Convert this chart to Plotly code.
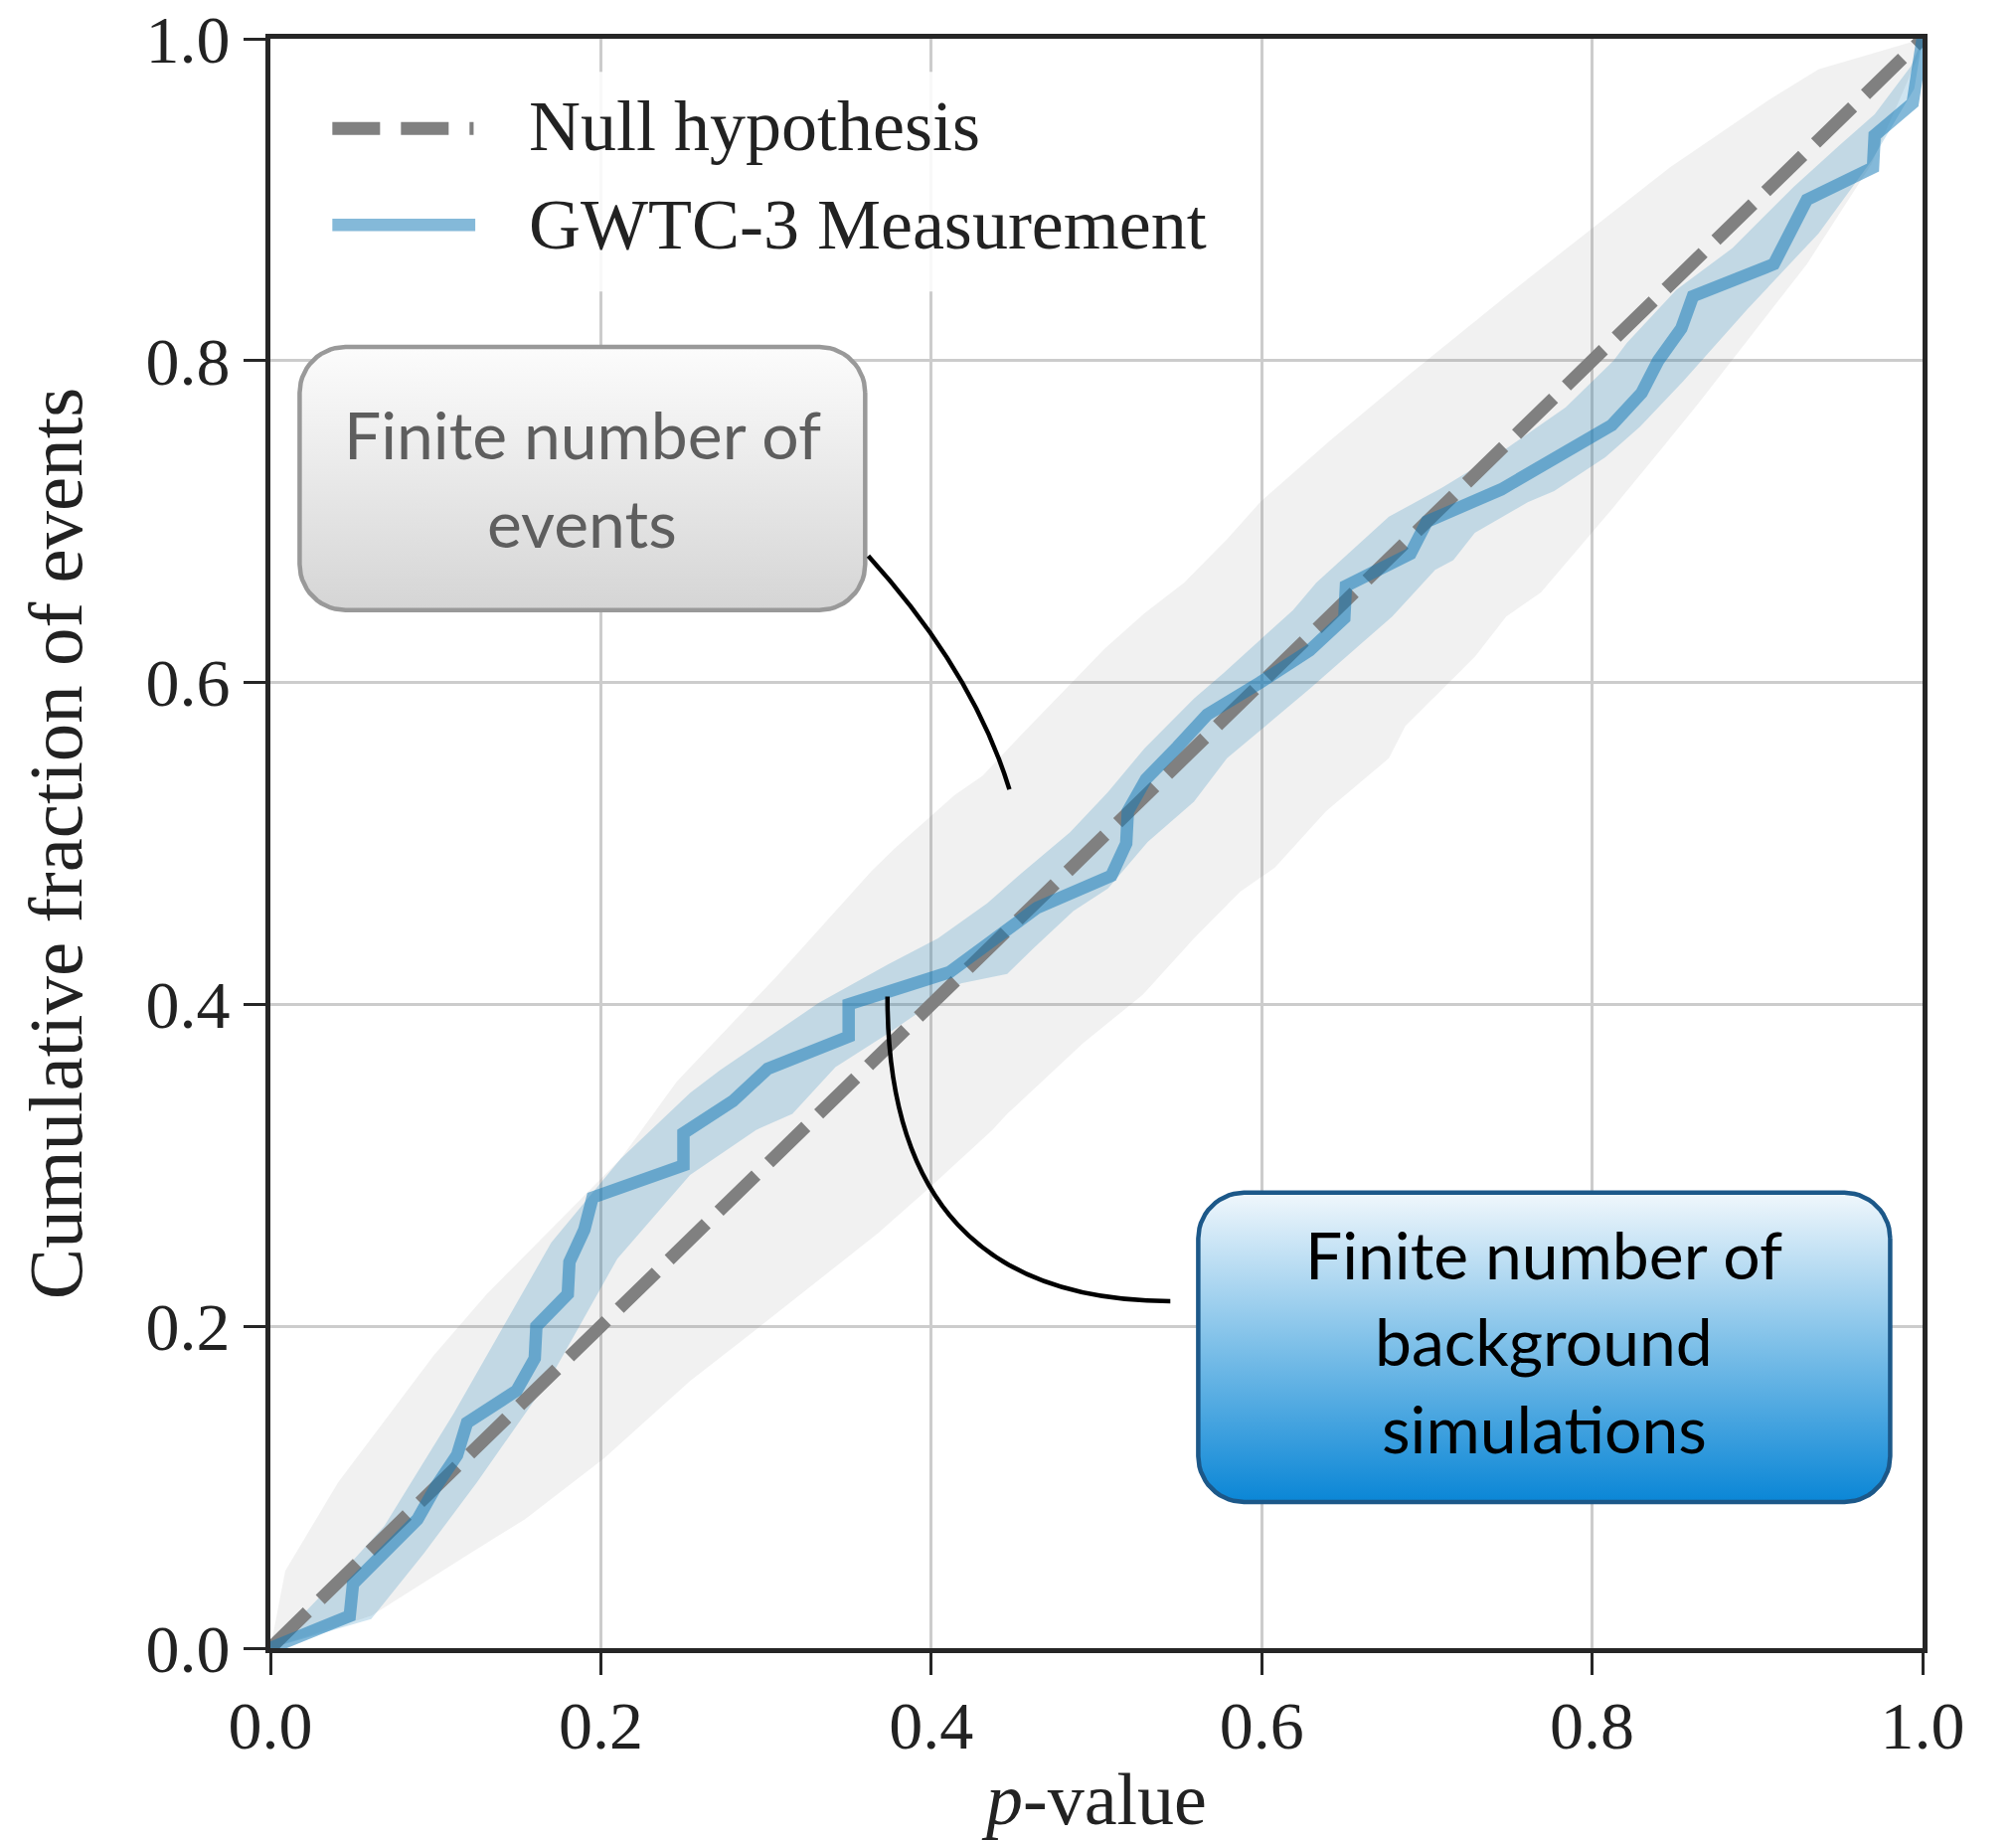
import math
import plotly.graph_objects as go

# ---------------- data ----------------
null_p = [0.0, 1.0]
null_f = [0.0, 1.0]

meas_p = [0.000, 0.048, 0.050, 0.070, 0.089, 0.100, 0.113, 0.119, 0.149, 0.160,
          0.161, 0.180, 0.181, 0.190, 0.195, 0.250, 0.250, 0.280, 0.301, 0.350,
          0.350, 0.411, 0.437, 0.464, 0.509, 0.518, 0.519, 0.530, 0.549, 0.567,
          0.599, 0.629, 0.650, 0.651, 0.690, 0.700, 0.745, 0.778, 0.812, 0.830,
          0.840, 0.854, 0.861, 0.910, 0.920, 0.930, 0.970, 0.971, 0.994, 0.997,
          1.000]
meas_f = [0.00, 0.02, 0.04, 0.06, 0.08, 0.10, 0.12, 0.14, 0.16, 0.18,
          0.20, 0.22, 0.24, 0.26, 0.28, 0.30, 0.32, 0.34, 0.36, 0.38,
          0.40, 0.42, 0.44, 0.46, 0.48, 0.50, 0.52, 0.54, 0.56, 0.58,
          0.60, 0.62, 0.64, 0.66, 0.68, 0.70, 0.72, 0.74, 0.76, 0.78,
          0.80, 0.82, 0.84, 0.86, 0.88, 0.90, 0.92, 0.94, 0.96, 0.98,
          1.00]

# grey band: finite number of events (null hypothesis spread)
grey_up_p = [0.0, 0.009, 0.041, 0.099, 0.131, 0.212, 0.246, 0.306, 0.364, 0.378,
             0.414, 0.431, 0.454, 0.505, 0.529, 0.553, 0.579, 0.599, 0.641, 0.689,
             0.749, 0.801, 0.847, 0.907, 0.937, 1.0]
grey_up_f = [0.0, 0.048, 0.103, 0.182, 0.220, 0.304, 0.352, 0.417, 0.483, 0.497,
             0.530, 0.542, 0.567, 0.621, 0.643, 0.662, 0.689, 0.712, 0.750, 0.791,
             0.841, 0.883, 0.920, 0.962, 0.981, 1.0]
grey_lo_p = [0.0, 0.061, 0.121, 0.154, 0.202, 0.254, 0.294, 0.368, 0.400, 0.437,
             0.446, 0.492, 0.528, 0.559, 0.587, 0.608, 0.639, 0.677, 0.687, 0.729,
             0.748, 0.769, 0.813, 0.841, 0.864, 0.930, 0.969, 0.997, 1.0]
grey_lo_f = [0.0, 0.020, 0.059, 0.080, 0.118, 0.166, 0.198, 0.258, 0.287, 0.322,
             0.332, 0.376, 0.406, 0.441, 0.470, 0.485, 0.520, 0.553, 0.573, 0.616,
             0.641, 0.656, 0.709, 0.744, 0.773, 0.860, 0.922, 0.988, 1.0]

# blue band: finite number of background simulations
blue_up_p = [0.0, 0.030, 0.069, 0.111, 0.170, 0.212, 0.254, 0.272, 0.302, 0.332,
             0.374, 0.404, 0.434, 0.454, 0.484, 0.507, 0.529, 0.559, 0.577, 0.619,
             0.633, 0.677, 0.709, 0.749, 0.784, 0.813, 0.821, 0.851, 0.885, 0.922,
             0.950, 0.971, 0.993, 1.0]
blue_up_f = [0.0, 0.032, 0.076, 0.146, 0.252, 0.304, 0.345, 0.359, 0.380, 0.401,
             0.425, 0.441, 0.463, 0.481, 0.507, 0.532, 0.559, 0.590, 0.606, 0.645,
             0.662, 0.703, 0.721, 0.746, 0.771, 0.800, 0.811, 0.844, 0.870, 0.908,
             0.934, 0.953, 0.983, 1.0]
blue_lo_p = [0.0, 0.061, 0.093, 0.125, 0.170, 0.210, 0.254, 0.294, 0.316, 0.342,
             0.374, 0.418, 0.446, 0.462, 0.486, 0.507, 0.531, 0.559, 0.579, 0.607,
             0.629, 0.659, 0.679, 0.705, 0.716, 0.729, 0.761, 0.777, 0.808, 0.829,
             0.855, 0.894, 0.937, 0.969, 0.995, 1.0]
blue_lo_f = [0.0, 0.018, 0.059, 0.103, 0.169, 0.242, 0.294, 0.322, 0.332, 0.361,
             0.382, 0.413, 0.419, 0.435, 0.458, 0.472, 0.501, 0.526, 0.553, 0.577,
             0.596, 0.623, 0.641, 0.670, 0.676, 0.693, 0.712, 0.719, 0.740, 0.759,
             0.787, 0.832, 0.879, 0.924, 0.969, 1.0]

tick_vals = [0.0, 0.2, 0.4, 0.6, 0.8, 1.0]
tick_text = ["0.0", "0.2", "0.4", "0.6", "0.8", "1.0"]

legend_labels = ["Null hypothesis", "GWTC-3 Measurement"]
box1_lines = ["Finite number of", "events"]
box2_lines = ["Finite number of", "background", "simulations"]

# ---------------- layout constants ----------------
FIG_W, FIG_H = 2028, 1851
M_L, M_R, M_T, M_B = 272, 94, 39, 193
PW = FIG_W - M_L - M_R
PH = FIG_H - M_T - M_B

SERIF = "Liberation Serif, Times New Roman, serif"
SANS = "Lato, Open Sans, sans-serif"

GREY_BAND = "rgba(128,128,128,0.11)"
BLUE_BAND = "rgba(10,120,180,0.2)"
BLUE_LINE = "rgba(20,120,182,0.52)"
NULL_COL = "#808080"


def rounded_rect(x0, x1, y0, y1, r_px, n=14):
    rx, ry = r_px / PW, r_px / PH
    corners = [(x1 - rx, y1 - ry, 0, 90), (x0 + rx, y1 - ry, 90, 180),
               (x0 + rx, y0 + ry, 180, 270), (x1 - rx, y0 + ry, 270, 360)]
    xs, ys = [], []
    for cx, cy, a0, a1 in corners:
        for k in range(n + 1):
            a = math.radians(a0 + (a1 - a0) * k / n)
            xs.append(cx + rx * math.cos(a))
            ys.append(cy + ry * math.sin(a))
    xs.append(xs[0])
    ys.append(ys[0])
    return xs, ys


fig = go.Figure()

# grey band
fig.add_trace(go.Scatter(x=grey_up_p + grey_lo_p[::-1], y=grey_up_f + grey_lo_f[::-1],
                         fill="toself", fillcolor=GREY_BAND, mode="none",
                         hoverinfo="skip", showlegend=False))
# blue band
fig.add_trace(go.Scatter(x=blue_up_p + blue_lo_p[::-1], y=blue_up_f + blue_lo_f[::-1],
                         fill="toself", fillcolor=BLUE_BAND, mode="none",
                         hoverinfo="skip", showlegend=False))
# null hypothesis
fig.add_trace(go.Scatter(x=null_p, y=null_f, mode="lines", name=legend_labels[0],
                         line=dict(color=NULL_COL, width=13, dash="52px,18px"),
                         showlegend=False))
# measurement
fig.add_trace(go.Scatter(x=meas_p, y=meas_f, mode="lines", name=legend_labels[1],
                         line=dict(color=BLUE_LINE, width=12.5),
                         showlegend=False))

# annotation boxes
b1x, b1y = rounded_rect(0.0177, 0.360, 0.645, 0.8085, 46)
fig.add_trace(go.Scatter(x=b1x, y=b1y, fill="toself", mode="lines",
                         line=dict(color="#999999", width=4.5),
                         fillgradient=dict(type="vertical",
                                           colorscale=[[0, "#d5d5d5"], [1, "#fcfcfc"]]),
                         hoverinfo="skip", showlegend=False))
b2x, b2y = rounded_rect(0.5616, 0.9804, 0.0908, 0.283, 46)
fig.add_trace(go.Scatter(x=b2x, y=b2y, fill="toself", mode="lines",
                         line=dict(color="#1c5889", width=4.5),
                         fillgradient=dict(type="vertical",
                                           colorscale=[[0, "#0a86d6"], [0.5, "#7cbfe8"],
                                                       [1, "#f0f7fc"]]),
                         hoverinfo="skip", showlegend=False))

shapes = []
# legend background
shapes.append(dict(type="rect", xref="x", yref="y", x0=0.014, x1=0.588, y0=0.843, y1=0.9795,
                   fillcolor="rgba(255,255,255,0.85)", line=dict(width=0), layer="between"))
# legend symbols
shapes.append(dict(type="line", xref="x", yref="y", x0=0.0375, x1=0.123, y0=0.9443, y1=0.9443,
                   line=dict(color=NULL_COL, width=13, dash="48px,21px"), layer="above"))
shapes.append(dict(type="line", xref="x", yref="y", x0=0.0375, x1=0.124, y0=0.8844, y1=0.8844,
                   line=dict(color=BLUE_LINE, width=12.5), layer="above"))
# connector curves
shapes.append(dict(type="path", xref="x", yref="y",
                   path="M 0.3619,0.6787 Q 0.4256,0.6065 0.4473,0.5336",
                   line=dict(color="black", width=4.5), layer="above"))
shapes.append(dict(type="path", xref="x", yref="y",
                   path="M 0.5447,0.2156 Q 0.3733,0.2156 0.3735,0.4049",
                   line=dict(color="black", width=4.5), layer="above"))

annotations = []
annotations.append(dict(x=0.1555, y=0.9455, xref="x", yref="y", text=legend_labels[0],
                        showarrow=False, xanchor="left", yanchor="middle",
                        font=dict(family=SERIF, size=72, color="#222222")))
annotations.append(dict(x=0.1555, y=0.8844, xref="x", yref="y", text=legend_labels[1],
                        showarrow=False, xanchor="left", yanchor="middle",
                        font=dict(family=SERIF, size=72, color="#222222")))
for txt, yy in zip(box1_lines, [0.7545, 0.6995]):
    annotations.append(dict(x=0.1889, y=yy, xref="x", yref="y", text=txt, showarrow=False,
                            xanchor="center", yanchor="middle",
                            font=dict(family=SANS, size=66, color="#5e5e5e")))
for txt, yy in zip(box2_lines, [0.2447, 0.1912, 0.1366]):
    annotations.append(dict(x=0.771, y=yy, xref="x", yref="y", text=txt, showarrow=False,
                            xanchor="center", yanchor="middle",
                            font=dict(family=SANS, size=66, color="#000000")))

axis_common = dict(range=[0, 1], tickvals=tick_vals, ticktext=tick_text,
                   ticks="outside", ticklen=22, tickwidth=3, tickcolor="#262626",
                   showline=True, linecolor="#262626", linewidth=5, mirror=True,
                   showgrid=True, gridcolor="#cccccc", gridwidth=3, zeroline=False,
                   automargin=False,
                   tickfont=dict(family=SERIF, size=68, color="#222222"))

fig.update_layout(
    width=FIG_W, height=FIG_H,
    margin=dict(l=M_L, r=M_R, t=M_T, b=M_B, autoexpand=False),
    paper_bgcolor="white", plot_bgcolor="white",
    showlegend=False,
    xaxis=dict(**axis_common, ticklabelstandoff=-8,
               title=dict(text="<i>p</i>-value", standoff=46,
                          font=dict(family=SERIF, size=74, color="#222222"))),
    yaxis=dict(**axis_common,
               title=dict(text="Cumulative fraction of events", standoff=40,
                          font=dict(family=SERIF, size=77, color="#222222"))),
    shapes=shapes,
    annotations=annotations,
)

fig.write_html("out.html")
